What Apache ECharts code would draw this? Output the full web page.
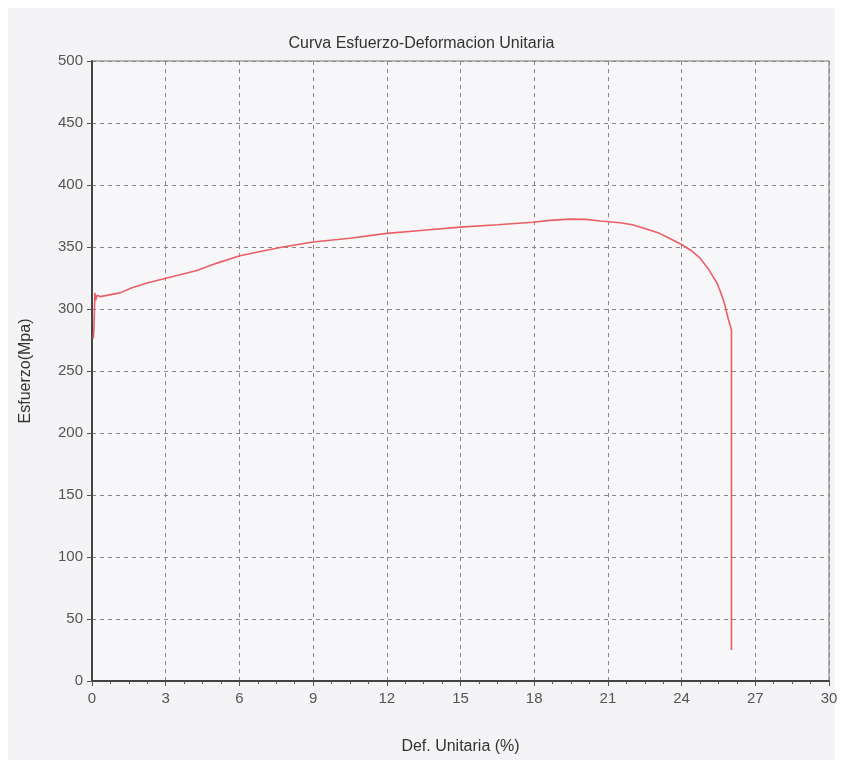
<!DOCTYPE html>
<html>
<head>
<meta charset="utf-8">
<script src="https://cdn.jsdelivr.net/npm/echarts@6/dist/echarts.min.js"></script>
<style>
  html, body { margin: 0; padding: 0; background: #ffffff; }
  #chart { width: 843px; height: 767px; }
</style>
</head>
<body>
<div id="chart"></div>
<script>
// deformacion unitaria (%) y esfuerzo (MPa)
const strain = [0.05, 0.08, 0.1, 0.12, 0.15, 0.2, 0.33, 0.6, 1.14, 1.6, 2.24, 3.05, 4.27, 5.09, 6.02, 7.0, 7.77, 9.0, 10.5, 12.0, 13.5, 14.98, 16.5, 17.95, 18.64, 19.45, 20.1, 20.68, 21.5, 22.0, 22.5, 23.1, 23.5, 24.0, 24.4, 24.75, 25.1, 25.44, 25.6, 25.75, 25.9, 26.03, 26.03]
const stress = [276, 285, 300, 313, 307, 311, 310, 311, 313, 317, 321, 325, 331, 337, 343, 347, 350, 354, 357, 361, 363.5, 366, 368, 370, 371.5, 372.5, 372.3, 371, 369.5, 368, 365, 361, 357, 352, 347, 341, 332, 321, 313, 304, 292, 283, 25]
const xTicks = [0, 3, 6, 9, 12, 15, 18, 21, 24, 27, 30]
const yTicks = [0, 50, 100, 150, 200, 250, 300, 350, 400, 450, 500]

const points = strain.map((x, i) => [x, stress[i]])
const myChart = echarts.init(document.getElementById('chart'))
const option = {
  backgroundColor: '#ffffff',
  animation: false,
  graphic: [{
    type: 'rect',
    z: -10,
    shape: { x: 8, y: 8, width: 827, height: 752 },
    style: { fill: '#f4f4f6' }
  }],
  title: {
    text: 'Curva Esfuerzo-Deformacion Unitaria',
    left: 'center',
    top: 31,
    textStyle: { fontFamily: 'Liberation Sans', fontSize: 16, fontWeight: 'normal', color: '#333' }
  },
  grid: { left: 92, right: 14, top: 61, bottom: 86, show: true, borderColor: '#777', borderWidth: 1, backgroundColor: '#f7f7f9' },
  xAxis: {
    type: 'value',
    min: xTicks[0],
    max: xTicks[xTicks.length - 1],
    interval: 3,
    name: 'Def. Unitaria (%)',
    nameLocation: 'middle',
    nameGap: 58,
    nameTextStyle: { fontFamily: 'Liberation Sans', fontSize: 16, color: '#333' },
    axisLine: { lineStyle: { color: '#444', width: 2 } },
    axisTick: { length: 5, lineStyle: { color: '#555' } },
    minorTick: { show: true, splitNumber: 4, length: 3, lineStyle: { color: '#555' } },
    axisLabel: { fontFamily: 'Liberation Sans', fontSize: 15, color: '#555', margin: 10 },
    splitLine: { lineStyle: { color: '#888', type: [4, 4], width: 1 } }
  },
  yAxis: {
    type: 'value',
    min: yTicks[0],
    max: yTicks[yTicks.length - 1],
    interval: 50,
    name: 'Esfuerzo(Mpa)',
    nameLocation: 'middle',
    nameGap: 58,
    nameTextStyle: { fontFamily: 'Liberation Sans', fontSize: 16, color: '#333' },
    axisLine: { show: true, lineStyle: { color: '#444', width: 2 } },
    axisTick: { show: true, length: 5, lineStyle: { color: '#555' } },
    axisLabel: { fontFamily: 'Liberation Sans', fontSize: 15, color: '#555', margin: 9 },
    splitLine: { lineStyle: { color: '#888', type: [4, 4], width: 1 } }
  },
  series: [{
    type: 'line',
    data: points,
    showSymbol: false,
    smooth: false,
    lineStyle: { color: '#ea5f66', width: 1.6 }
  }]
}
myChart.setOption(option)
</script>
</body>
</html>
